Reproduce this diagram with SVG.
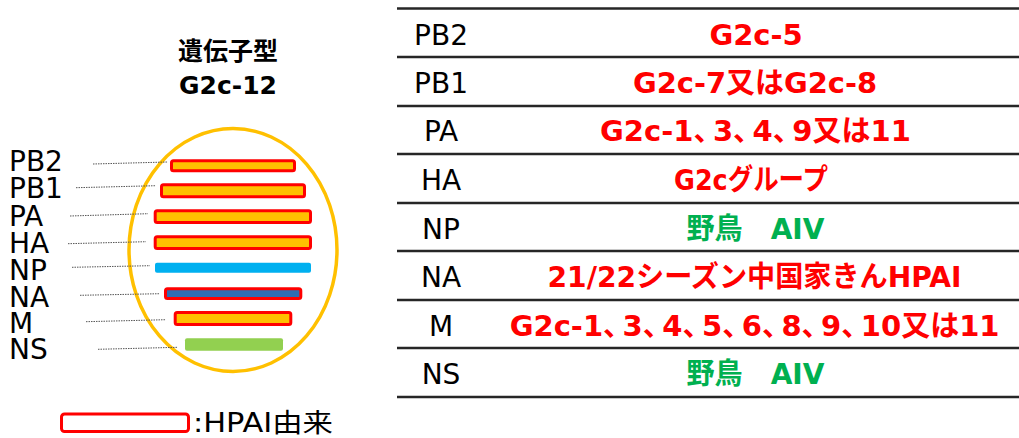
<svg xmlns="http://www.w3.org/2000/svg" width="1019" height="438" viewBox="0 0 1019 438">
<style>
.lbl{font-family:"DejaVu Sans","Noto Sans CJK JP",sans-serif;font-size:28px;fill:#000}
.tl{font-family:"DejaVu Sans","Noto Sans CJK JP",sans-serif;font-size:28px;fill:#000;text-anchor:middle}
.val{font-family:"DejaVu Sans","Noto Sans CJK JP",sans-serif;font-size:29px;font-weight:bold}
.red{fill:#FF0000}
.grn{fill:#00B050}
.cm{letter-spacing:-9.5px}
.title{font-family:"DejaVu Sans","Noto Sans CJK JP",sans-serif;font-size:25px;font-weight:bold;fill:#000;text-anchor:middle}
.hp{fill:#FFC000;stroke:#FF0000;stroke-width:3}
.rule{stroke:#262626;stroke-width:2.5}
.lead{stroke:#555;stroke-width:1;stroke-dasharray:1.5 1;fill:none}
</style>
<rect width="1019" height="438" fill="#fff"/>

<g id="title">
<text class="title" x="228" y="60">遺伝子型</text>
<text class="title" x="228" y="94">G2c-12</text>
</g>

<g id="virus">
<ellipse cx="233" cy="250" rx="104" ry="121.5" fill="none" stroke="#FFC000" stroke-width="3.5"/>
</g>

<g id="seg-PB2"><text class="lbl" x="9" y="171">PB2</text><rect class="hp" x="171.5" y="160.8" width="123" height="10" rx="2"/></g>
<g id="seg-PB1"><text class="lbl" x="9" y="198">PB1</text><rect class="hp" x="161.5" y="184.8" width="143" height="12" rx="2"/></g>
<g id="seg-PA"><text class="lbl" x="9" y="226">PA</text><rect class="hp" x="155.2" y="210.8" width="155.3" height="11.7" rx="2"/></g>
<g id="seg-HA"><text class="lbl" x="9" y="253">HA</text><rect class="hp" x="155.2" y="236.8" width="155.3" height="11.7" rx="2"/></g>
<g id="seg-NP"><text class="lbl" x="9" y="280">NP</text><rect x="155" y="262.7" width="156" height="10" rx="2" fill="#00B0F0"/></g>
<g id="seg-NA"><text class="lbl" x="9" y="307">NA</text><rect x="165.5" y="288.8" width="135.3" height="9.7" rx="2" fill="#2E6DB4" stroke="#FF0000" stroke-width="3"/></g>
<g id="seg-M"><text class="lbl" x="9" y="333">M</text><rect class="hp" x="175.2" y="312.5" width="115.6" height="12" rx="2"/></g>
<g id="seg-NS"><text class="lbl" x="9" y="359">NS</text><rect x="185" y="338.3" width="98" height="12.4" rx="2" fill="#92D050"/></g>

<g id="connectors">
<line class="lead" x1="93" y1="164" x2="168" y2="162"/>
<line class="lead" x1="76" y1="187.7" x2="156" y2="185.7"/>
<line class="lead" x1="70" y1="216" x2="148" y2="213.7"/>
<line class="lead" x1="68" y1="243.7" x2="146" y2="241.7"/>
<line class="lead" x1="72" y1="267.3" x2="150" y2="265.7"/>
<line class="lead" x1="80" y1="295.3" x2="160" y2="293.7"/>
<line class="lead" x1="86" y1="321.7" x2="166" y2="319.7"/>
<line class="lead" x1="98" y1="349.3" x2="178" y2="347.3"/>
</g>

<g id="legend">
<rect x="61.5" y="414" width="127" height="17.5" rx="3" fill="#fff" stroke="#FF0000" stroke-width="3"/>
<text class="lbl" x="193" y="432" textLength="140" lengthAdjust="spacingAndGlyphs" style="font-size:26px">:HPAI由来</text>
</g>

<g id="table">
<line class="rule" x1="397" y1="8.5" x2="1019" y2="8.5" stroke-width="1.5"/>
<line class="rule" x1="397" y1="57" x2="1019" y2="57"/>
<line class="rule" x1="397" y1="106" x2="1019" y2="106"/>
<line class="rule" x1="397" y1="154" x2="1019" y2="154"/>
<line class="rule" x1="397" y1="203" x2="1019" y2="203"/>
<line class="rule" x1="397" y1="251" x2="1019" y2="251"/>
<line class="rule" x1="397" y1="300" x2="1019" y2="300"/>
<line class="rule" x1="397" y1="348" x2="1019" y2="348"/>
<line class="rule" x1="397" y1="397" x2="1019" y2="397"/>
</g>

<g id="row-PB2"><text class="tl" x="441" y="45">PB2</text><text class="val red" x="709.4" y="45">G2c-5</text></g>
<g id="row-PB1"><text class="tl" x="441" y="93">PB1</text><text class="val red" x="633" y="93" textLength="244" lengthAdjust="spacingAndGlyphs">G2c-7又はG2c-8</text></g>
<g id="row-PA"><text class="tl" x="441" y="141">PA</text><text class="val red" x="600" y="141">G2c-1<tspan class="cm">、</tspan>3<tspan class="cm">、</tspan>4<tspan class="cm">、</tspan>9又は11</text></g>
<g id="row-HA"><text class="tl" x="441" y="190">HA</text><text class="val red" x="674" y="190" textLength="154" lengthAdjust="spacingAndGlyphs">G2cグループ</text></g>
<g id="row-NP"><text class="tl" x="441" y="239">NP</text><text class="val grn" x="686.5" y="239" textLength="138" lengthAdjust="spacingAndGlyphs">野鳥　AIV</text></g>
<g id="row-NA"><text class="tl" x="441" y="287">NA</text><text class="val red" x="547.5" y="287" textLength="414" lengthAdjust="spacingAndGlyphs">21/22シーズン中国家きんHPAI</text></g>
<g id="row-M"><text class="tl" x="441" y="336">M</text><text class="val red" x="509.7" y="336">G2c-1<tspan class="cm">、</tspan>3<tspan class="cm">、</tspan>4<tspan class="cm">、</tspan>5<tspan class="cm">、</tspan>6<tspan class="cm">、</tspan>8<tspan class="cm">、</tspan>9<tspan class="cm">、</tspan>10又は11</text></g>
<g id="row-NS"><text class="tl" x="441" y="384">NS</text><text class="val grn" x="686.5" y="384" textLength="138" lengthAdjust="spacingAndGlyphs">野鳥　AIV</text></g>
</svg>
